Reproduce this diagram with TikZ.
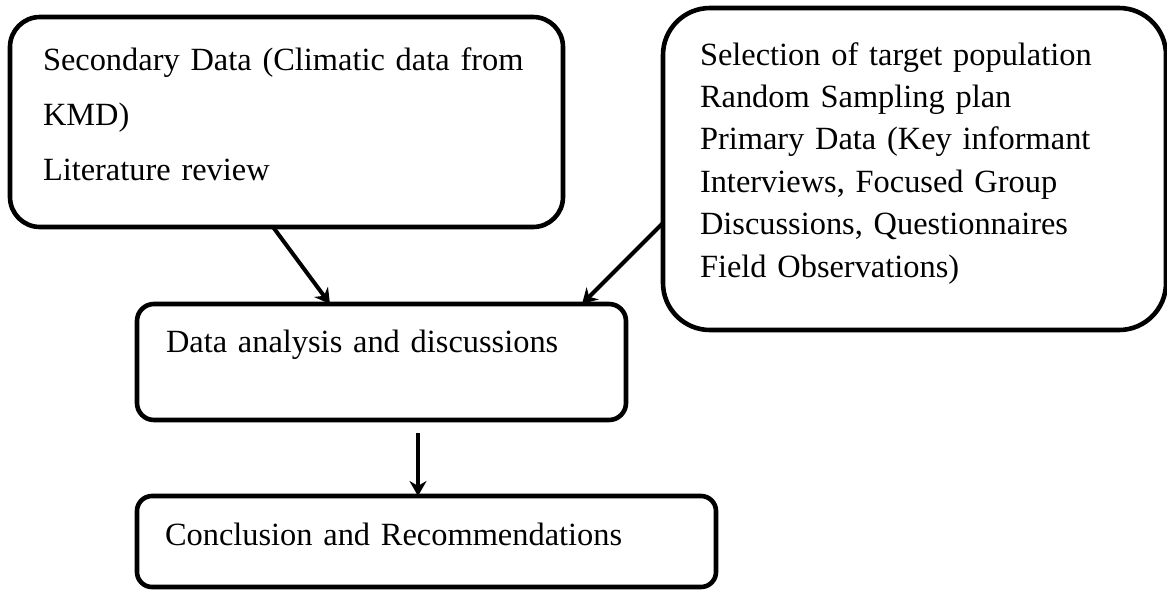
\documentclass[tikz,border=0pt]{standalone}
\usepackage{fontspec}
\setmainfont{Liberation Serif}
\usetikzlibrary{arrows.meta, positioning}

\begin{document}
\begin{tikzpicture}[
    box/.style={draw, line width=2.3pt, rounded corners=#1, outer sep=0pt,
                inner ysep=0pt, align=left, anchor=north west,
                font=\fontsize{16.2pt}{27.5pt}\selectfont},
    box/.default=8pt,
    arr/.style={-{Stealth[length=7.5pt, width=8.5pt]}, line width=2pt}
  ]
  \useasboundingbox (0,0) rectangle (583.5pt,-295pt);
  \node[box=15pt, inner xsep=16.5pt, text width=243.5pt,
        text height=26.5pt, text depth=78.5pt] (second) at (5pt,-8.5pt)
    {Secondary Data (Climatic data from\\KMD)\\Literature review};
  \node[box=23.5pt, inner xsep=18.5pt, text width=214.5pt,
        text height=28.5pt, text depth=132.5pt,
        font=\fontsize{16.2pt}{21.2pt}\selectfont,
        below right=-4.5pt and 50pt of second.north east] (primary)
    {Selection of target population\\Random Sampling plan\\
     Primary Data (Key informant\\Interviews, Focused Group\\
     Discussions, Questionnaires\\Field Observations)};
  \node[box=8.5pt, inner xsep=14.5pt, text width=215.5pt,
        text height=24pt, text depth=34pt,
        below right=38.5pt and 63.5pt of second.south west] (analysis)
    {Data analysis and discussions};
  \node[box=7.5pt, inner xsep=14pt, text width=261.5pt,
        text height=24.5pt, text depth=21pt,
        below right=38pt and 0pt of analysis.south west] (conclude)
    {Conclusion and Recommendations};
  \draw[arr] ([xshift=-6.75pt]second.south) -- ([xshift=-25.75pt]analysis.north);
  \draw[arr] ([yshift=-27pt]primary.west) -- ([xshift=-22pt]analysis.north east);
  \draw[arr] ([xshift=18.25pt, yshift=-6.5pt]analysis.south) -- ([xshift=-4.25pt]conclude.north);
\end{tikzpicture}
\end{document}
